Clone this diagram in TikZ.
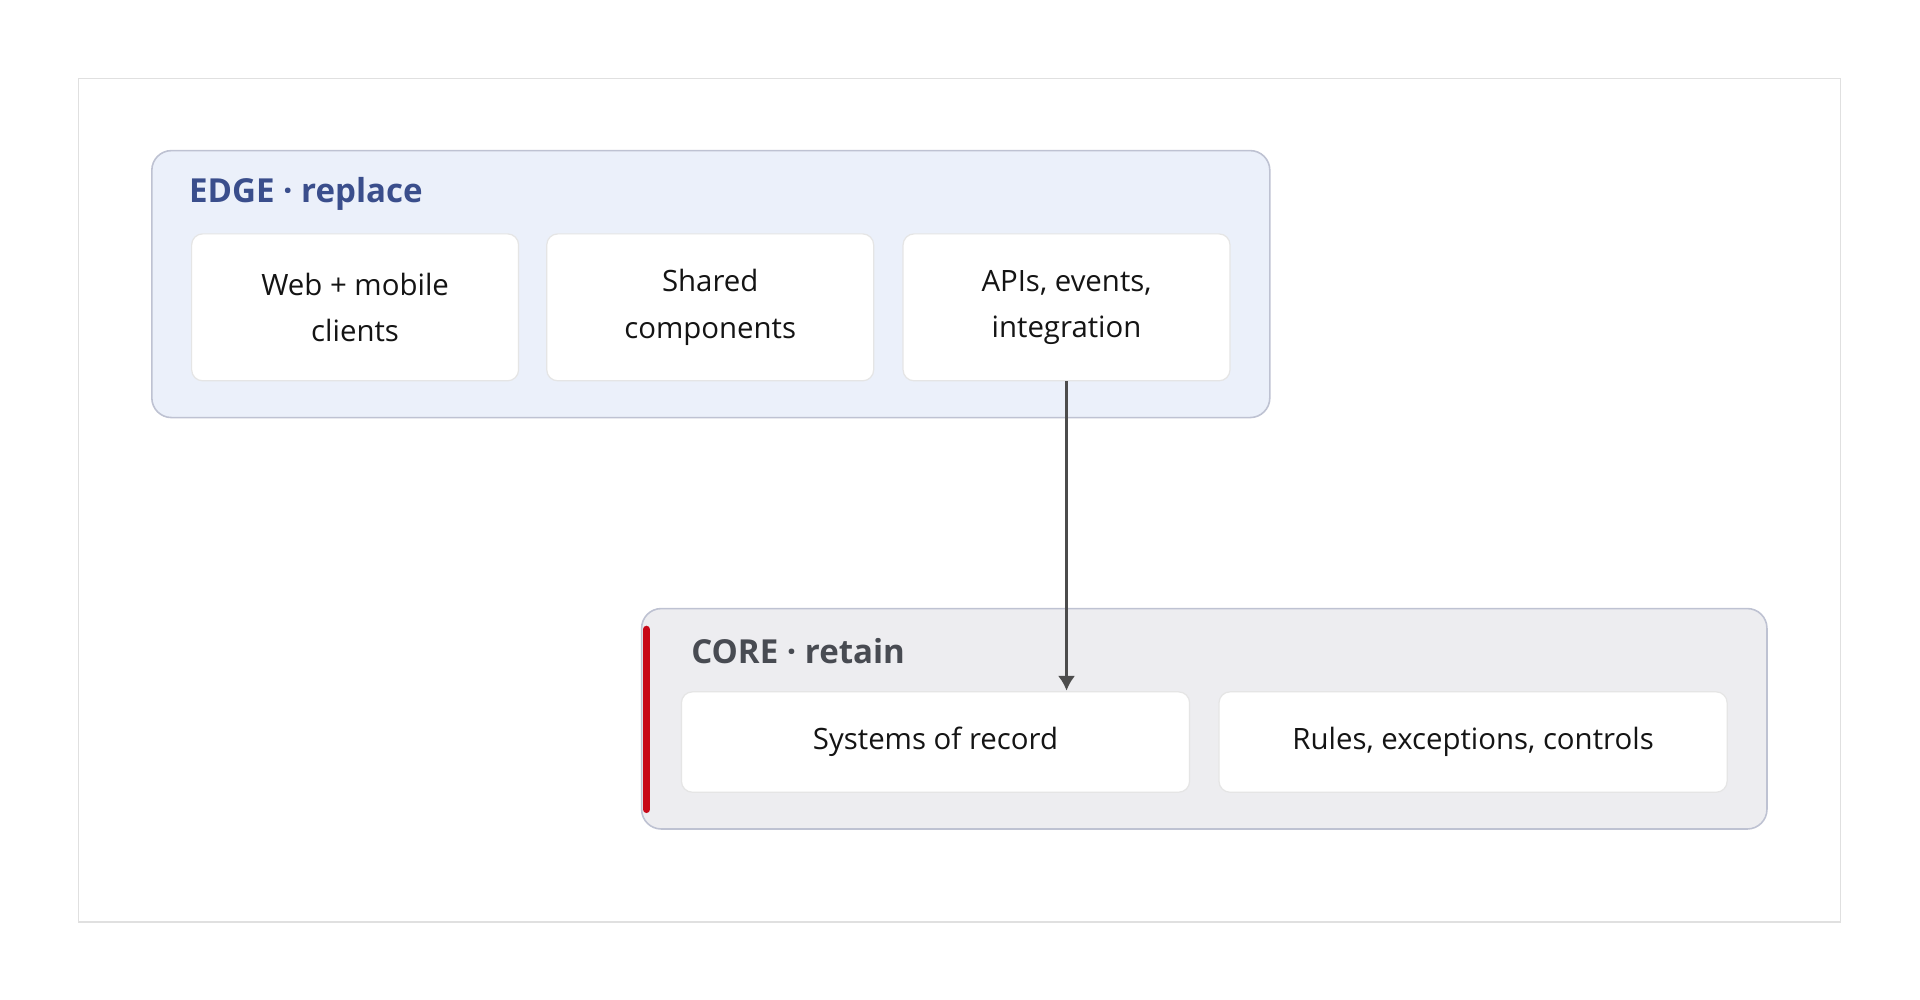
\documentclass[tikz,border=0pt]{standalone}
\usepackage{fontspec}
\setmainfont{Open Sans}
\usetikzlibrary{arrows.meta}
\definecolor{edgefill}{RGB}{235,240,250}
\definecolor{corefill}{RGB}{237,237,240}
\definecolor{grpline}{RGB}{190,194,210}
\definecolor{edgetxt}{RGB}{58,78,140}
\definecolor{coretxt}{RGB}{72,75,82}
\definecolor{redbar}{RGB}{200,8,24}
\begin{document}
\begin{tikzpicture}[x=1pt,y=-1pt,
  card/.style={draw=black!10,line width=1pt,fill=white,rounded corners=9pt,align=center,font=\fontsize{24}{38}\selectfont\color{black!92},inner sep=0pt},
  grp/.style={line width=1.3pt,rounded corners=16pt}]
\useasboundingbox (0,0) rectangle (1568,816);
\draw[black!12,line width=1pt] (64,64) rectangle (1503,753);
\filldraw[grp,fill=edgefill,draw=grpline] (124,123) rectangle (1037,341);
\node[anchor=west,font=\bfseries\fontsize{27}{34}\selectfont,text=edgetxt] (et) at (151,158) {EDGE · replace};
\node[card,minimum width=267pt,minimum height=120pt] (c1) at (290,251) {Web + mobile\\clients};
\node[card,minimum width=267pt,minimum height=120pt] (c2) at (580,251) {Shared\\components};
\node[card,minimum width=267pt,minimum height=120pt] (c3) at (871,251) {APIs, events,\\integration};
\filldraw[grp,fill=corefill,draw=grpline] (524,497) rectangle (1443,677);
\draw[redbar,line width=6pt,line cap=round] (528,514) -- (528,661);
\node[anchor=west,font=\bfseries\fontsize{27}{34}\selectfont,text=coretxt] (ct) at (561,532) {CORE · retain};
\node[card,minimum width=415pt,minimum height=82pt] (s1) at (764,606) {Systems of record};
\node[card,minimum width=415pt,minimum height=82pt] (s2) at (1203,606) {Rules, exceptions, controls};
\coordinate (tip) at (871,564);
\draw[black!70,line width=2pt,-{Latex[length=12pt,width=14pt]}] (c3.south) -- (tip);
\end{tikzpicture}
\end{document}
